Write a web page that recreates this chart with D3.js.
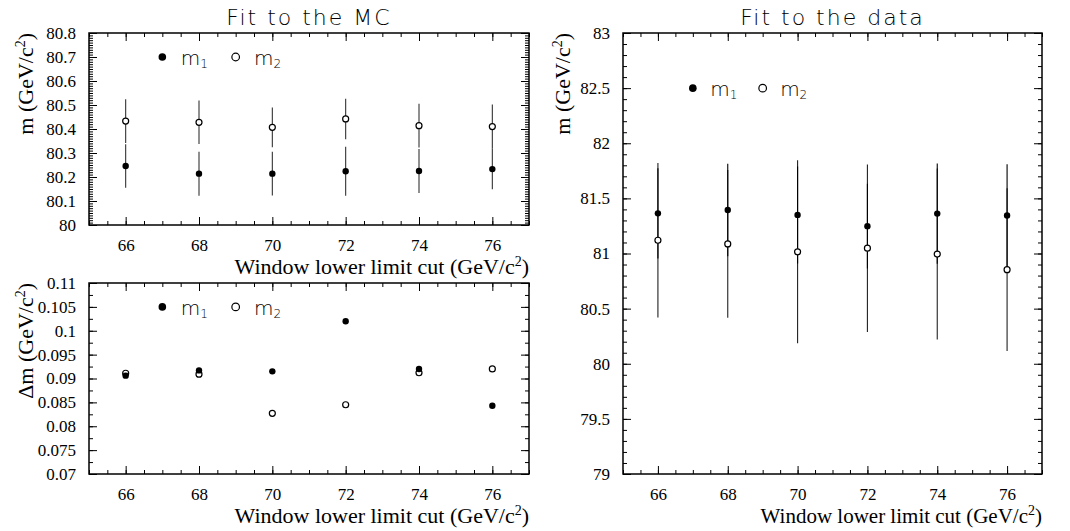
<!DOCTYPE html>
<html>
<head>
<meta charset="utf-8">
<script src="https://cdn.jsdelivr.net/npm/d3@7"></script>
<style>
  body { margin: 0; background: #fff; }
  svg { display: block; }
  .ttl { font-family: "DejaVu Sans", sans-serif; font-weight: 200; font-size: 22px; letter-spacing: 2px; }
  .leg { font-family: "DejaVu Sans", sans-serif; font-weight: 200; font-size: 20px; }
  .axt { font-family: "Liberation Serif", "Times New Roman", serif; font-size: 22px; }
  g.ax text { font-family: "Liberation Serif", "Times New Roman", serif !important; font-size: 17px; fill: #000; }
</style>
</head>
<body>
<svg id="canvas" width="1070" height="531"></svg>
<script>
let canvas = d3.select("#canvas")

// window lower limit cut (GeV/c^2)
let cuts = [66, 68, 70, 72, 74, 76]

// fit to the MC
let mcM1 = [80.246, 80.214, 80.214, 80.224, 80.225, 80.233]
let mcM2 = [80.433, 80.428, 80.407, 80.442, 80.414, 80.410]
let mcDm1 = [0.0906, 0.0917, 0.0915, 0.1020, 0.0920, 0.0843]
let mcDm2 = [0.0911, 0.0909, 0.0827, 0.0845, 0.0912, 0.0920]

// fit to the data
let dataM1 = [81.364, 81.395, 81.350, 81.248, 81.362, 81.345]
let dataM2 = [81.120, 81.087, 81.015, 81.048, 80.995, 80.853]
let dataErr1 = [0.41, 0.42, 0.44, 0.385, 0.455, 0.464]
let dataErr2 = [0.70, 0.67, 0.83, 0.76, 0.775, 0.738]

// axis ticks
let xTicks = [66, 68, 70, 72, 74, 76]
let mTicksMC = [80, 80.1, 80.2, 80.3, 80.4, 80.5, 80.6, 80.7, 80.8]
let dmTicks = [0.07, 0.075, 0.08, 0.085, 0.09, 0.095, 0.1, 0.105, 0.11]
let mTicksData = [79, 79.5, 80, 80.5, 81, 81.5, 82, 82.5, 83]

let fmt = d => String(+d.toFixed(4))
let serif = "Liberation Serif, Times New Roman, serif"

let drawPanel = (p) => {
    let x = d3.scaleLinear().domain([65, 77]).range([p.left, p.right])
    let y = d3.scaleLinear().domain(p.yDomain).range([p.bottom, p.top])
    let g = canvas.append("g")

    let xMinor = d3.range(65, 77.01, 0.5)
    let yMinor = d3.range(p.yDomain[0], p.yDomain[1] + p.yMinor / 2, p.yMinor)

    // minor ticks, all four sides
    let axes = [
        [d3.axisBottom(x).tickValues(xMinor), `translate(0,${p.bottom})`],
        [d3.axisTop(x).tickValues(xMinor), `translate(0,${p.top})`],
        [d3.axisLeft(y).tickValues(yMinor), `translate(${p.left},0)`],
        [d3.axisRight(y).tickValues(yMinor), `translate(${p.right},0)`]
    ]
    axes.forEach(a => {
        g.append("g").attr("transform", a[1])
            .call(a[0].tickSizeInner(-4).tickSizeOuter(0).tickFormat(""))
            .call(s => s.select(".domain").remove())
    })

    // major ticks
    let withFont = s => s.attr("class", "ax").attr("font-family", serif).attr("font-size", 17)
    g.append("g").attr("transform", `translate(0,${p.bottom})`)
        .call(d3.axisBottom(x).tickValues(xTicks).tickSizeInner(-8).tickSizeOuter(0).tickPadding(14).tickFormat(fmt))
        .call(s => s.select(".domain").remove())
        .call(withFont)
    g.append("g").attr("transform", `translate(0,${p.top})`)
        .call(d3.axisTop(x).tickValues(xTicks).tickSizeInner(-8).tickSizeOuter(0).tickFormat(""))
        .call(s => s.select(".domain").remove())
    g.append("g").attr("transform", `translate(${p.left},0)`)
        .call(d3.axisLeft(y).tickValues(p.yTicks).tickSizeInner(-8).tickSizeOuter(0).tickPadding(13).tickFormat(fmt))
        .call(s => s.select(".domain").remove())
        .call(withFont)
    g.append("g").attr("transform", `translate(${p.right},0)`)
        .call(d3.axisRight(y).tickValues(p.yTicks).tickSizeInner(-8).tickSizeOuter(0).tickFormat(""))
        .call(s => s.select(".domain").remove())
    g.selectAll(".tick line").attr("stroke", "#000")

    // frame
    g.append("rect")
        .attr("x", p.left).attr("y", p.top)
        .attr("width", p.right - p.left).attr("height", p.bottom - p.top)
        .attr("fill", "none").attr("stroke", "#000").attr("stroke-width", 1.5)

    // error bars
    p.series.forEach(s => {
        if (!s.err) return
        g.selectAll(null).data(cuts).enter().append("line")
            .attr("x1", d => x(d)).attr("x2", d => x(d))
            .attr("y1", (d, i) => y(s.values[i] + s.err[i]))
            .attr("y2", (d, i) => y(s.values[i] - s.err[i]))
            .attr("stroke", s.barColor).attr("stroke-width", 1.1)
    })
    // markers
    p.series.forEach(s => {
        g.selectAll(null).data(cuts).enter().append("circle")
            .attr("cx", d => x(d))
            .attr("cy", (d, i) => y(s.values[i]))
            .attr("r", s.filled ? 3.2 : 3)
            .attr("fill", s.filled ? "#000" : "#fff")
            .attr("stroke", "#000").attr("stroke-width", s.filled ? 0 : 1.2)
    })

    // legend
    let legY = y(p.legendY)
    let legend = [{ at: 67, filled: true, sub: "1" }, { at: 69, filled: false, sub: "2" }]
    legend.forEach(l => {
        g.append("circle").attr("cx", x(l.at)).attr("cy", legY).attr("r", 3.8)
            .attr("fill", l.filled ? "#000" : "#fff").attr("stroke", "#000").attr("stroke-width", l.filled ? 0 : 1.2)
        let t = g.append("text").attr("class", "leg").attr("x", x(l.at + 0.5)).attr("y", legY + 8)
        t.append("tspan").text("m")
        t.append("tspan").attr("dy", 3).attr("font-size", 12).text(l.sub)
    })

    // title
    if (p.title) {
        g.append("text").attr("class", "ttl")
            .attr("x", (p.left + p.right) / 2).attr("y", p.top - 8)
            .attr("text-anchor", "middle").text(p.title)
    }

    // x axis title
    let xt = g.append("text").attr("class", "axt")
        .attr("x", p.right).attr("y", p.bottom + 49)
        .attr("text-anchor", "end").style("font-size", p.xTitleSize + "px")
    xt.append("tspan").text("Window lower limit cut (GeV/c")
    xt.append("tspan").attr("dy", -8).attr("font-size", 14).text("2")
    xt.append("tspan").attr("dy", 8).text(")")

    // y axis title
    let yt = g.append("text").attr("class", "axt")
        .attr("transform", `translate(${p.yTitleX},${p.top}) rotate(-90)`)
        .attr("text-anchor", "end")
    yt.append("tspan").text(p.yLabel + " (GeV/c")
    yt.append("tspan").attr("dy", -8).attr("font-size", 14).text("2")
    yt.append("tspan").attr("dy", 8).text(")")
}

drawPanel({
    left: 89, right: 529, top: 33, bottom: 225,
    yDomain: [80, 80.8], yTicks: mTicksMC, yMinor: 0.01,
    series: [
        { values: mcM2, err: mcDm2, filled: false, barColor: "#333" },
        { values: mcM1, err: mcDm1, filled: true, barColor: "#333" }
    ],
    legendY: 80.7, title: "Fit to the MC", yLabel: "m", yTitleX: 33, xTitleSize: 22
})

drawPanel({
    left: 89, right: 529, top: 283, bottom: 474,
    yDomain: [0.07, 0.11], yTicks: dmTicks, yMinor: 0.0025,
    series: [
        { values: mcDm2, filled: false },
        { values: mcDm1, filled: true }
    ],
    legendY: 0.105, title: null, yLabel: "\u0394m", yTitleX: 33, xTitleSize: 22
})

drawPanel({
    left: 623, right: 1042, top: 33, bottom: 474,
    yDomain: [79, 83], yTicks: mTicksData, yMinor: 0.1,
    series: [
        { values: dataM2, err: dataErr2, filled: false, barColor: "#222" },
        { values: dataM1, err: dataErr1, filled: true, barColor: "#000" }
    ],
    legendY: 82.5, title: "Fit to the data", yLabel: "m", yTitleX: 570, xTitleSize: 21
})
</script>
</body>
</html>
